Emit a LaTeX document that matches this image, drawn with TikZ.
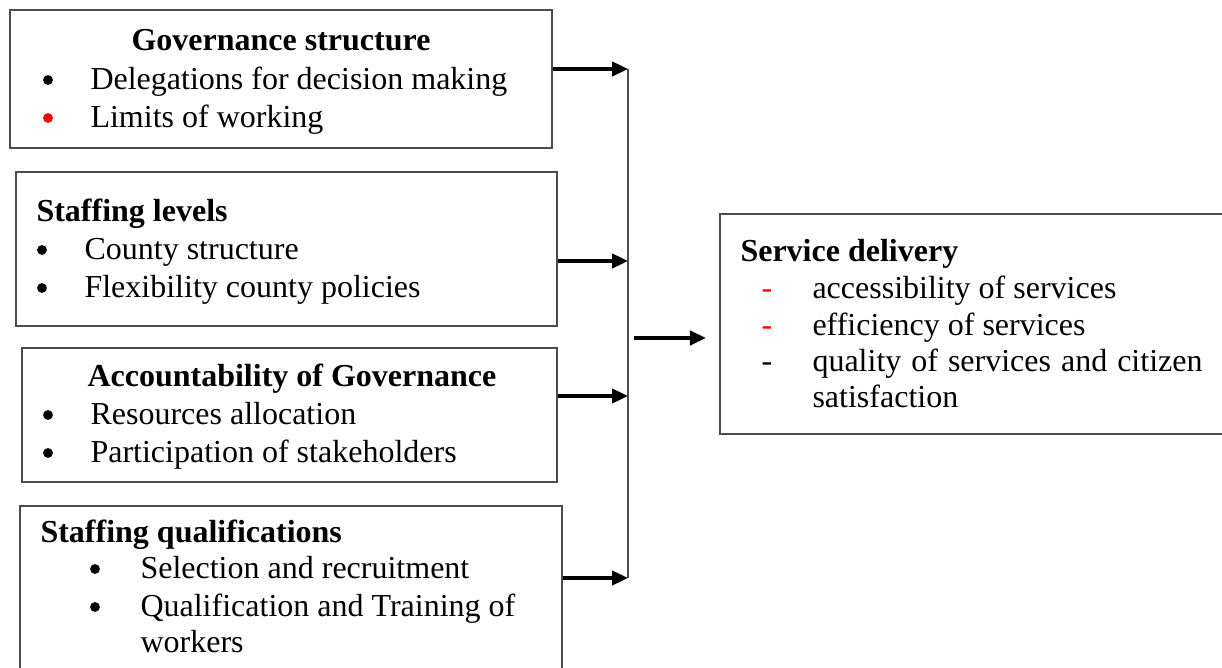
\documentclass[tikz,border=0pt]{standalone}
\usepackage{fontspec}
\setmainfont{Liberation Serif}
\usetikzlibrary{arrows.meta}

\begin{document}
\begin{tikzpicture}[x=0.375pt, y=-0.375pt,
    box/.style={draw=black!70, line width=0.75pt, inner sep=0pt},
    txt/.style={anchor=base west, inner sep=0pt, font=\fontsize{12}{14}\selectfont},
    head/.style={txt, font=\fontsize{12}{14}\selectfont\bfseries},
    blt/.style={circle, fill, inner sep=0pt, minimum size=3.7pt},
    hyph/.style={anchor=base, inner sep=0pt, font=\fontsize{12}{14}\selectfont},
    arr/.style={line width=1.2pt, -{Triangle[length=6pt, width=5.4pt]}},
    bus/.style={draw=black!70, line width=0.75pt}]
    \useasboundingbox (0,0) rectangle (1222,668);
    \clip (0,0) rectangle (1222,668);
    \node[box, minimum width=203.25pt, minimum height=51.75pt] (gov) at (281,79) {};
    \node[box, minimum width=202.9pt, minimum height=57.75pt] (lvl) at (286.5,249) {};
    \node[box, minimum width=200.6pt, minimum height=50.25pt] (acc) at (289.5,415) {};
    \node[box, minimum width=203.25pt, minimum height=80.25pt] (qual) at (291,613) {};
    \node[box, minimum width=195pt, minimum height=82.5pt] (serv) at (980,324) {};
    \node[head, anchor=base] (govT) at (281,51) {Governance structure};
    \node[blt] (govB1) at (48,80) {};
    \node[txt] (govL1) at (90,90) {Delegations for decision making};
    \node[blt, red] (govB2) at (48,118) {};
    \node[txt] (govL2) at (90,128) {Limits of working};
    \node[head] (lvlT) at (36,222) {Staffing levels};
    \node[blt] (lvlB1) at (42,250) {};
    \node[txt] (lvlL1) at (84,260) {County structure};
    \node[blt] (lvlB2) at (42,288) {};
    \node[txt] (lvlL2) at (84,298) {Flexibility county policies};
    \node[head] (accT) at (87,387) {Accountability of Governance};
    \node[blt] (accB1) at (48,415) {};
    \node[txt] (accL1) at (90,425) {Resources allocation};
    \node[blt] (accB2) at (48,453) {};
    \node[txt] (accL2) at (90,463) {Participation of stakeholders};
    \node[head] (qualT) at (40,543) {Staffing qualifications};
    \node[blt] (qualB1) at (95,569) {};
    \node[txt] (qualL1) at (140,579) {Selection and recruitment};
    \node[blt] (qualB2) at (95,607) {};
    \node[txt] (qualL2) at (140,617) {Qualification and Training of};
    \node[txt] (qualL3) at (140,653) {workers};
    \node[head] (servT) at (740,262) {Service delivery};
    \node[hyph, red] (servD1) at (767,299) {-};
    \node[txt] (servL1) at (812,299) {accessibility of services};
    \node[hyph, red] (servD2) at (767,336) {-};
    \node[txt] (servL2) at (812,336) {efficiency of services};
    \node[hyph] (servD3) at (767,372) {-};
    \node[txt] (servL3) at (812,372) {\makebox[146.25pt][s]{quality of services and citizen}};
    \node[txt] (servL4) at (812,408) {satisfaction};
    \coordinate (j1) at (628,69);
    \coordinate (j2) at (628,261);
    \coordinate (j3) at (628,396);
    \coordinate (j4) at (628,578);
    \coordinate (hub) at (634,338);
    \draw[bus] (j1) -- (j4);
    \draw[arr] (gov.east |- j1) -- (j1);
    \draw[arr] (lvl.east |- j2) -- (j2);
    \draw[arr] (acc.east |- j3) -- (j3);
    \draw[arr] (qual.east |- j4) -- (j4);
    \draw[arr] (hub) -- ([xshift=-4.9pt]serv.west |- hub);
\end{tikzpicture}
\end{document}
